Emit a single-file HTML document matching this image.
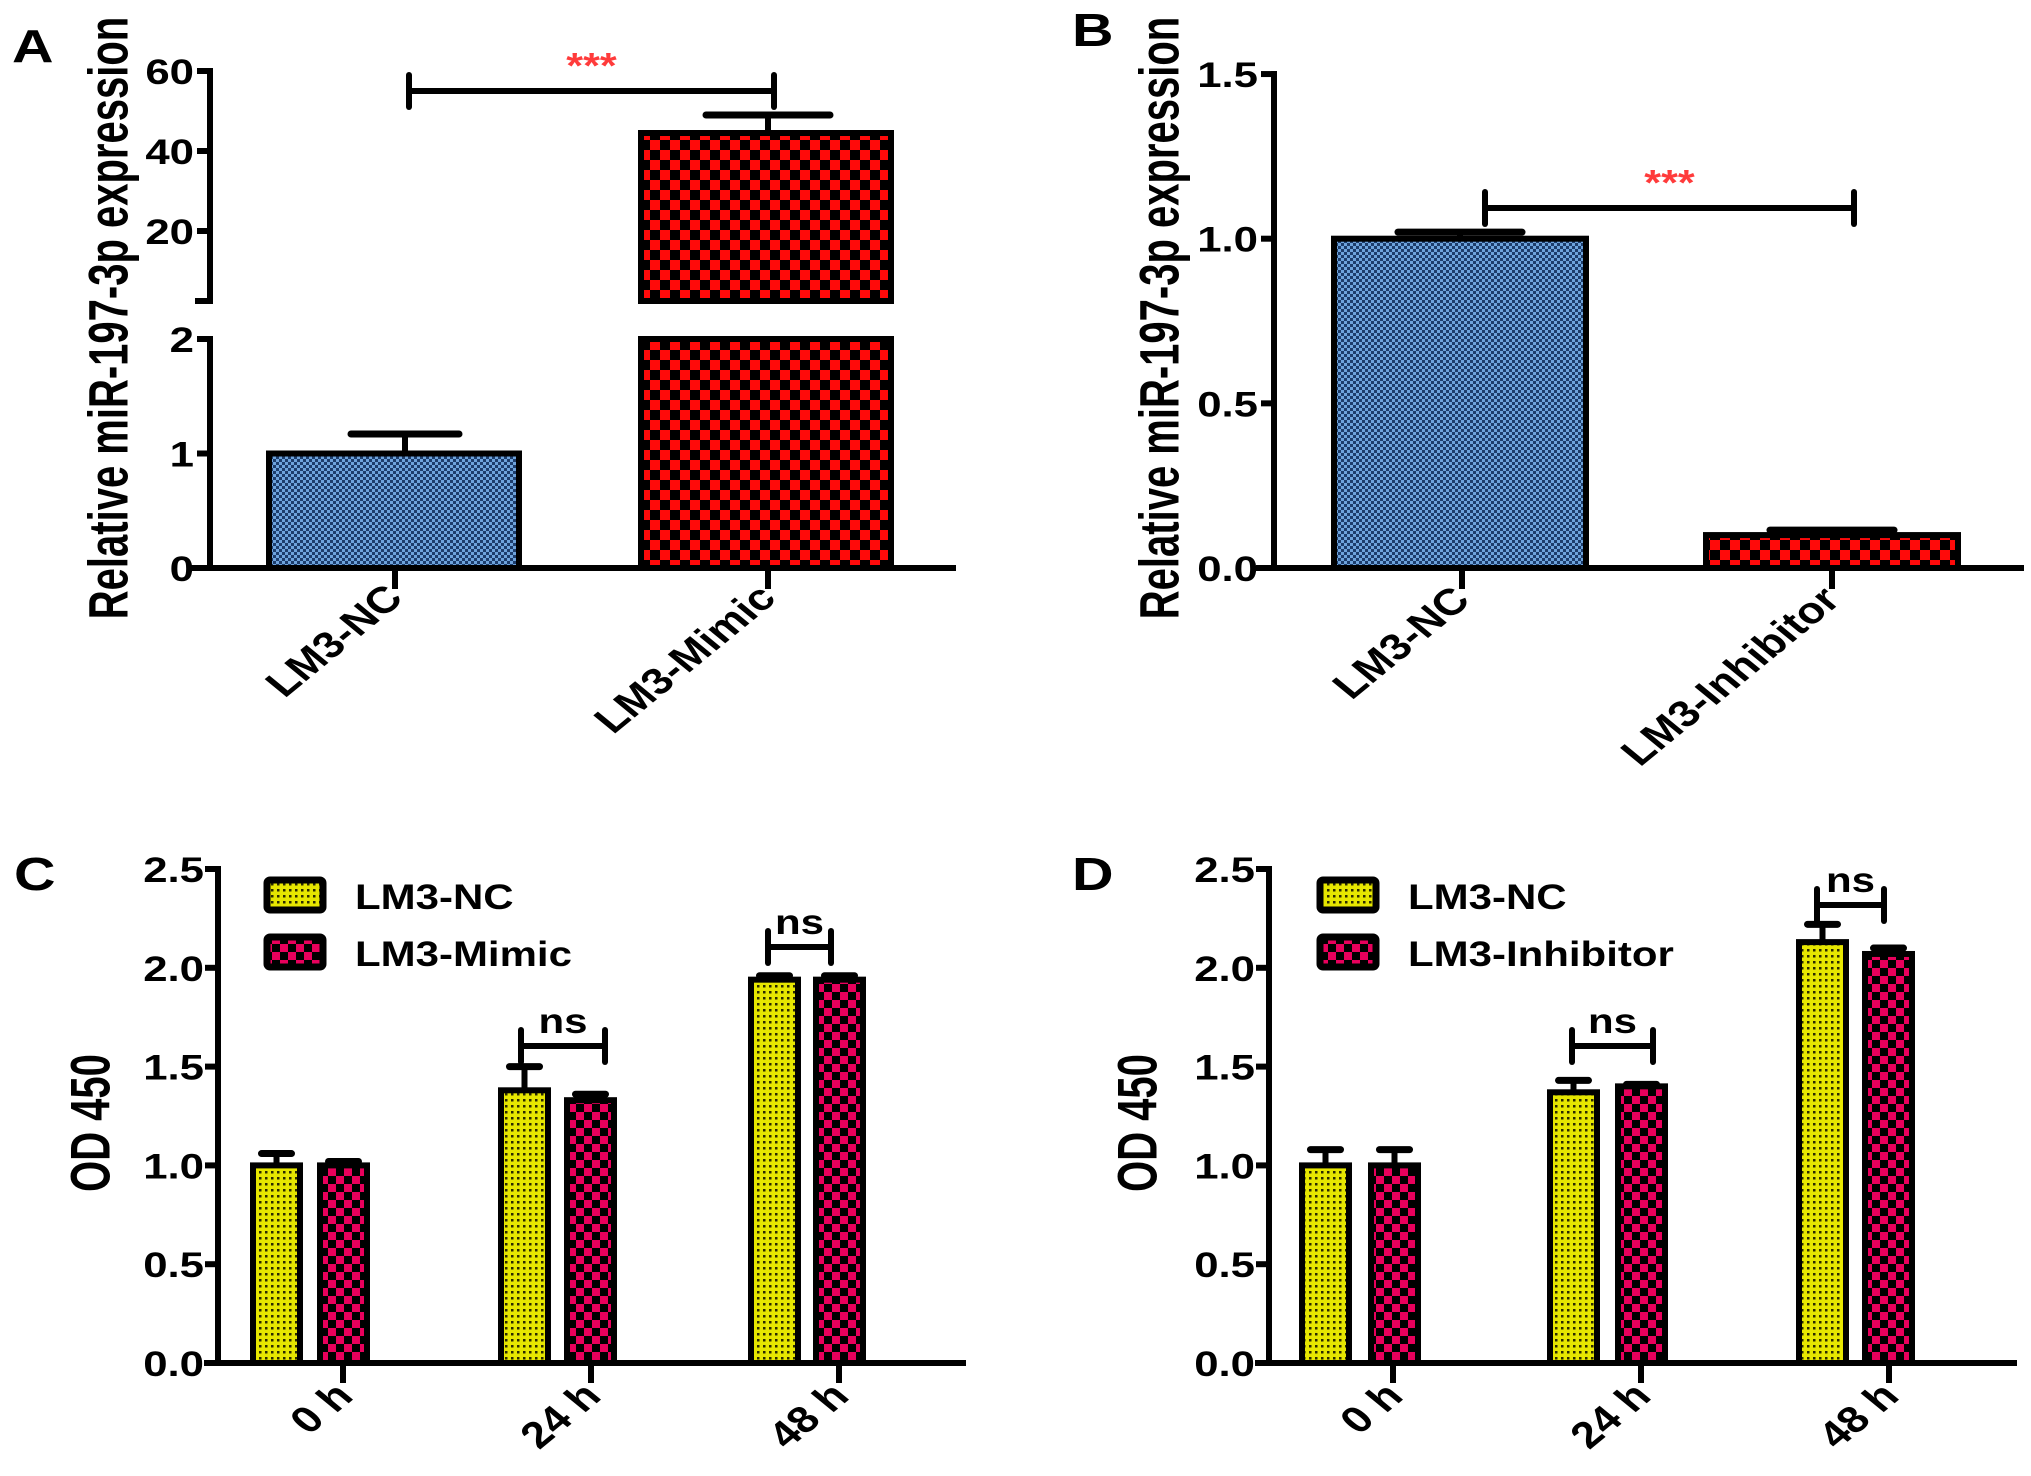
<!DOCTYPE html>
<html><head><meta charset="utf-8"><style>
html,body{margin:0;padding:0;background:#fff}
svg{display:block}
text{font-family:"Liberation Sans",Arial,sans-serif;font-weight:bold;fill:#000}
</style></head><body>
<svg id="fig" width="2031" height="1476" viewBox="0 0 2031 1476" xmlns="http://www.w3.org/2000/svg">
<defs>
<pattern id="pBlue" width="6" height="6" patternUnits="userSpaceOnUse"><rect width="6" height="6" fill="#6ea3dc"/><rect width="3" height="3" fill="#1d3d6c"/><rect x="3" y="3" width="3" height="3" fill="#1d3d6c"/></pattern>
<pattern id="pRed" width="20" height="20" patternUnits="userSpaceOnUse"><rect width="20" height="20" fill="#ff0a0a"/><rect width="10" height="10" fill="#000"/><rect x="10" y="10" width="10" height="10" fill="#000"/></pattern>
<pattern id="pYel" width="6" height="6" patternUnits="userSpaceOnUse"><rect width="6" height="6" fill="#e6e600"/><rect x="1" y="1" width="2.5" height="2.5" fill="#2a2a00"/></pattern>
<pattern id="pPink" width="16" height="16" patternUnits="userSpaceOnUse"><rect width="16" height="16" fill="#e8005c"/><rect width="8" height="8" fill="#000"/><rect x="8" y="8" width="8" height="8" fill="#000"/></pattern>
</defs>
</svg>
<script>
// Panel A data
const catsA = ["LM3-NC", "LM3-Mimic"];
const valsA = [1.0, 44.5];
const errA = [0.17, 4.5];
// Panel B data
const catsB = ["LM3-NC", "LM3-Inhibitor"];
const valsB = [1.0, 0.1];
const errB = [0.02, 0.015];
const ticksB = ["0.0", "0.5", "1.0", "1.5"];
// Panel C data
const timeCats = ["0 h", "24 h", "48 h"];
const ncC = [1.0, 1.38, 1.94];
const ncErrC = [0.06, 0.12, 0.02];
const mimC = [1.0, 1.33, 1.94];
const mimErrC = [0.02, 0.03, 0.02];
// Panel D data
const ncD = [1.0, 1.37, 2.13];
const ncErrD = [0.08, 0.06, 0.09];
const inhD = [1.0, 1.40, 2.07];
const inhErrD = [0.08, 0.01, 0.03];
const ticksCD = ["0.0", "0.5", "1.0", "1.5", "2.0", "2.5"];

const NS = "http://www.w3.org/2000/svg";
const svg = document.getElementById('fig');
const SW = 6;
function mk(tag, attrs, parent) {
  const e = document.createElementNS(NS, tag);
  for (const k in attrs) e.setAttribute(k, attrs[k]);
  (parent || svg).appendChild(e);
  return e;
}
function line(x1, y1, x2, y2, w, name) {
  const e = mk('line', {x1: x1, y1: y1, x2: x2, y2: y2, stroke: '#000', 'stroke-width': w || SW, 'stroke-linecap': 'square'});
  
  
  return e;
}
function txt(s, x, y, size, anchor, tf, name, color) {
  const e = mk('text', {'font-size': size, 'text-anchor': anchor || 'start', transform: 'translate(' + x + ',' + y + ') ' + (tf || '')});
  if (color) e.setAttribute('style', 'fill:' + color);
  e.textContent = s;
  
  
  return e;
}
function bar(x, w, yTop, yBot, fill, name) {
  const e = mk('rect', {x: x, y: yTop, width: w, height: Math.max(0, yBot - yTop), fill: 'url(#' + fill + ')', stroke: '#000', 'stroke-width': 6});
  
  
  return e;
}
function errbar(cx, yTop, yBase, capW, name) {
  const g = mk('g', {});
  
  
  mk('line', {x1: cx, y1: yBase, x2: cx, y2: yTop, stroke: '#000', 'stroke-width': 6}, g);
  mk('line', {x1: cx - capW / 2, y1: yTop, x2: cx + capW / 2, y2: yTop, stroke: '#000', 'stroke-width': 7, 'stroke-linecap': 'round'}, g);
}
function bracket(x1, x2, y, h, label, size, color, name) {
  const g = mk('g', {});
  
  
  mk('line', {x1: x1, y1: y, x2: x2, y2: y, stroke: '#000', 'stroke-width': 6}, g);
  mk('line', {x1: x1, y1: y - h, x2: x1, y2: y + h, stroke: '#000', 'stroke-width': 6, 'stroke-linecap': 'round'}, g);
  mk('line', {x1: x2, y1: y - h, x2: x2, y2: y + h, stroke: '#000', 'stroke-width': 6, 'stroke-linecap': 'round'}, g);
  txt(label, (x1 + x2) / 2, y - 13, size, 'middle', 'scale(1.2,1)', name + '-label', color);
}
const TS = 'scale(1.25,1)';
const TITLE_TF = 'scale(1.4,1) rotate(-90) translate(0,14)';
const XL_TF = 'scale(1.22,1) rotate(-45)';

// ---------- Panel A ----------
txt('A', 12, 62, 46, 'start', TS, 'panel-label-a');
const axA = 210;
const yUpA = v => 71 + (60 - v) * 4;
const yLoA = v => 568 - v * 114.5;
line(axA, 71, axA, 301, SW, 'y-axis-upper-a');
line(axA, 339, axA, 568, SW, 'y-axis-lower-a');
line(axA - 12, 301, axA, 301, SW, 'axis-break-a');
[60, 40, 20].forEach(v => { line(axA - 10, yUpA(v), axA, yUpA(v), SW, 'y-tick-a'); txt(String(v), axA - 16, yUpA(v) + 13, 35, 'end', TS, 'y-tick-label-a'); });
[2, 1, 0].forEach(v => { line(axA - 10, yLoA(v), axA, yLoA(v), SW, 'y-tick-a'); txt(String(v), axA - 16, yLoA(v) + 13, 35, 'end', TS, 'y-tick-label-a'); });
line(192, 568, 953, 568, SW, 'x-axis-a');
txt('Relative miR-197-3p expression', 108, 318, 40, 'middle', TITLE_TF, 'y-axis-title-a');
const xcA = [395, 768], bwA = 250;
catsA.forEach((c, i) => {
  const x0 = xcA[i] - bwA / 2 + (i === 0 ? -1 : -2);
  const fill = i === 0 ? 'pBlue' : 'pRed';
  const v = valsA[i], e = v + errA[i];
  if (v <= 2) {
    bar(x0, bwA, yLoA(v), 568, fill, 'bar-a-' + i);
    errbar(xcA[i] + (i === 0 ? 10 : 0), yLoA(e), yLoA(v), 108, 'error-bar-a-' + i);
  } else {
    bar(x0, bwA, 339, 568, fill, 'bar-a-' + i + '-lower');
    bar(x0, bwA, yUpA(v), 301, fill, 'bar-a-' + i + '-upper');
    errbar(xcA[i], yUpA(e), yUpA(v), 124, 'error-bar-a-' + i);
  }
  line(xcA[i], 568, xcA[i], 586, SW, 'x-tick-a');
  txt(c, xcA[i] + 10, 600, 37, 'end', XL_TF, 'x-tick-label-a');
});
bracket(409, 774, 91, 16, '***', 36, '#ff3b3b', 'significance-a');

// ---------- Panel B ----------
txt('B', 1072, 46, 46, 'start', TS, 'panel-label-b');
const axB = 1274;
const yB = v => 568 - v * 329.3;
line(axB, 74, axB, 568, SW, 'y-axis-b');
line(1259, 568, 2021, 568, SW, 'x-axis-b');
ticksB.forEach(t => { const v = parseFloat(t); line(axB - 10, yB(v), axB, yB(v), SW, 'y-tick-b'); txt(t, axB - 16, yB(v) + 13, 35, 'end', TS, 'y-tick-label-b'); });
txt('Relative miR-197-3p expression', 1159, 318, 40, 'middle', TITLE_TF, 'y-axis-title-b');
const xcB = [1462, 1832], bwB = 252;
catsB.forEach((c, i) => {
  const x0 = (i === 0 ? 1334 : 1706);
  const fill = i === 0 ? 'pBlue' : 'pRed';
  bar(x0, bwB, yB(valsB[i]), 568, fill, 'bar-b-' + i);
  errbar(x0 + bwB / 2, yB(valsB[i] + errB[i]), yB(valsB[i]), 124, 'error-bar-b-' + i);
  line(xcB[i], 568, xcB[i], 586, SW, 'x-tick-b');
  txt(c, xcB[i] + 10, 602, 37, 'end', XL_TF, 'x-tick-label-b');
});
bracket(1485, 1854, 208, 16, '***', 36, '#ff3b3b', 'significance-b');

// ---------- Panels C & D ----------
function grouped(p) {
  txt(p.letter, p.lx, 890, 46, 'start', TS, 'panel-label-' + p.id);
  const yC = v => 1363 - v * 197.6;
  line(p.ax, 869, p.ax, 1363, SW, 'y-axis-' + p.id);
  line(p.ax - 11, 1363, p.xEnd, 1363, SW, 'x-axis-' + p.id);
  ticksCD.forEach(t => { const v = parseFloat(t); line(p.ax - 10, yC(v), p.ax, yC(v), SW, 'y-tick-' + p.id); txt(t, p.ax - 14, yC(v) + 13, 35, 'end', TS, 'y-tick-label-' + p.id); });
  txt('OD  450', p.tx, 1123, 40, 'middle', TITLE_TF, 'y-axis-title-' + p.id);
  const bw = 47;
  timeCats.forEach((c, i) => {
    const t = p.ticks[i];
    const xa = p.nx[i], xb = p.sx[i];
    bar(xa, bw, yC(p.a[i]), 1363, 'pYel', 'bar-' + p.id + '-nc-' + i);
    errbar(xa + bw / 2, yC(p.a[i] + p.ae[i]), yC(p.a[i]), 30, 'error-bar-' + p.id + '-nc-' + i);
    bar(xb, bw, yC(p.b[i]), 1363, 'pPink', 'bar-' + p.id + '-treat-' + i);
    errbar(xb + bw / 2, yC(p.b[i] + p.be[i]), yC(p.b[i]), 30, 'error-bar-' + p.id + '-treat-' + i);
    line(t, 1363, t, 1380, SW, 'x-tick-' + p.id);
    txt(c, t + 12, 1398, 37, 'end', XL_TF, 'x-tick-label-' + p.id);
  });
  const lg = mk('g', {});
  
  
  const e1 = mk('rect', {x: p.legX, y: 880, width: 56, height: 30, rx: 3, fill: 'url(#pYel)', stroke: '#000', 'stroke-width': 7}, lg);
  
  
  const e2 = mk('rect', {x: p.legX, y: 937, width: 56, height: 30, rx: 3, fill: 'url(#pPink)', stroke: '#000', 'stroke-width': 7}, lg);
  
  
  txt('LM3-NC', p.legX + 88, 909, 35, 'start', 'scale(1.2,1)', 'legend-entry-nc');
  txt(p.treat, p.legX + 88, 966, 35, 'start', 'scale(1.2,1)', 'legend-entry-treat');
  p.ns.forEach((n, k) => bracket(n[0], n[1], n[2], 16, 'ns', 35, null, 'ns-bracket-' + p.id + '-' + k));
}
grouped({id: 'c', letter: 'C', lx: 14, ax: 218, xEnd: 963, tx: 90, ticks: [343, 591, 839],
  nx: [253, 501, 751], sx: [320, 567, 816], a: ncC, ae: ncErrC, b: mimC, be: mimErrC,
  legX: 267, treat: 'LM3-Mimic', ns: [[521, 605, 1046], [768, 831, 947]]});
grouped({id: 'd', letter: 'D', lx: 1072, ax: 1269, xEnd: 2014, tx: 1137, ticks: [1393, 1641, 1889],
  nx: [1302, 1550, 1799], sx: [1371, 1618, 1865], a: ncD, ae: ncErrD, b: inhD, be: inhErrD,
  legX: 1320, treat: 'LM3-Inhibitor', ns: [[1572, 1653, 1046], [1817, 1884, 905]]});
</script>
</body></html>
